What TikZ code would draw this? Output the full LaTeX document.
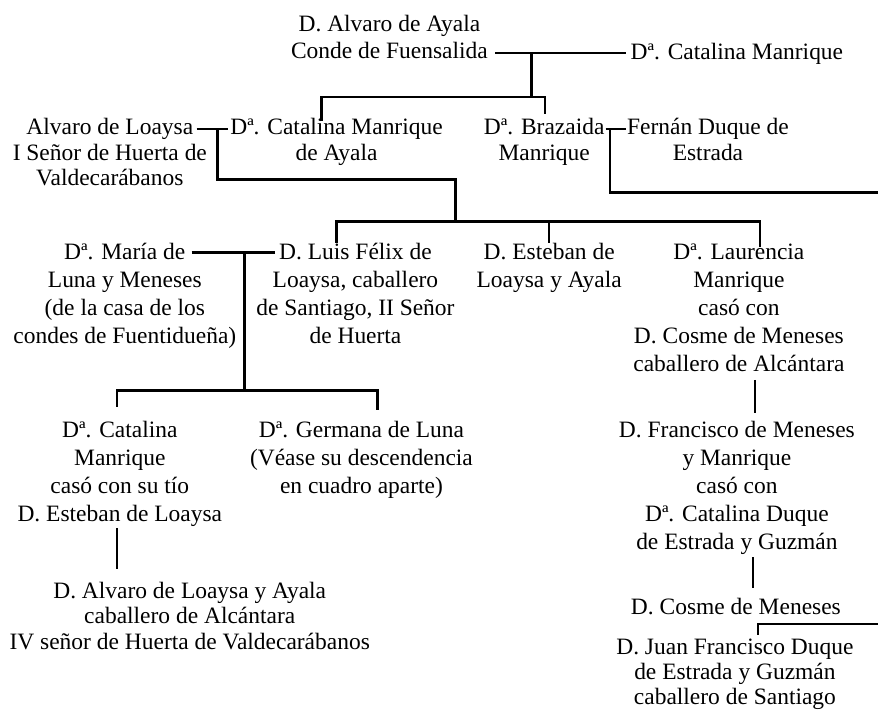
\documentclass[tikz,border=0pt]{standalone}
\usepackage{fontspec}
\setmainfont{Liberation Serif}
\begin{document}
\begin{tikzpicture}[x=1pt,y=-1pt]
\tikzset{
  person/.style={anchor=base, align=center, inner sep=0pt, font=\fontsize{23.5}{28}\selectfont},
  tight/.style={font=\fontsize{23.5}{25.5}\selectfont},
  conn/.style={line width=2.6pt, line cap=butt, line join=miter}
}
\fill[white] (0,0) rectangle (879,714);
% ---- persons (placed at the baseline of their last line) ----
\node[person,font=\fontsize{23.5}{27}\selectfont] (A) at (390,59) {D. Alvaro de Ayala\\Conde de Fuensalida};
\node[person] (B) at (738,60) {Dª. Catalina Manrique};
\node[person,tight] (D) at (110,186) {Alvaro de Loaysa\\I Señor de Huerta de\\Valdecarábanos};
\node[person,tight] (C) at (337,160.5) {Dª. Catalina Manrique\\de Ayala};
\node[person,tight] (E) at (545,160.5) {Dª. Brazaida\\Manrique};
\node[person,tight] (F) at (709,160.5) {Fernán Duque de\\Estrada};
\node[person] (G) at (125,344) {Dª. María de\\Luna y Meneses\\(de la casa de los\\condes de Fuentidueña)};
\node[person] (H) at (356,344) {D. Luis Félix de\\Loaysa, caballero\\de Santiago, II Señor\\de Huerta};
\node[person] (I) at (550,288) {D. Esteban de\\Loaysa y Ayala};
\node[person] (J) at (740,372) {Dª. Laurencia\\Manrique\\casó con\\D. Cosme de Meneses\\caballero de Alcántara};
\node[person] (K) at (120,522) {Dª. Catalina\\Manrique\\casó con su tío\\D. Esteban de Loaysa};
\node[person] (M) at (362,494) {Dª. Germana de Luna\\(Véase su descendencia\\en cuadro aparte)};
\node[person] (N) at (738,550) {D. Francisco de Meneses\\y Manrique\\casó con\\Dª. Catalina Duque\\de Estrada y Guzmán};
\node[person,tight] (L) at (190,650) {D. Alvaro de Loaysa y Ayala\\caballero de Alcántara\\IV señor de Huerta de Valdecarábanos};
\node[person] (O) at (737,615) {D. Cosme de Meneses};
\node[person,tight] (P) at (736,706) {D. Juan Francisco Duque\\de Estrada y Guzmán\\caballero de Santiago};
% ---- junction points ----
\coordinate (ab) at (532,53);
\coordinate (b1l) at (322,97);
\coordinate (b1m) at (532,97);
\coordinate (b1r) at (546,97);
\coordinate (dcL) at (197,129);
\coordinate (dc) at (218,129);
\coordinate (t2) at (456,180);
\coordinate (b2l) at (337,222);
\coordinate (b2m) at (550,222);
\coordinate (b2r) at (761,222);
\coordinate (ef) at (611,129);
\coordinate (efE) at (879,193);
\coordinate (ghL) at (192,253);
\coordinate (ghR) at (275,253);
\coordinate (gh) at (245,253);
\coordinate (b3l) at (117,391);
\coordinate (b3r) at (378,391);
\coordinate (kx) at (117,0);
\coordinate (jx) at (756,0);
\coordinate (nx) at (754,0);
\coordinate (pE) at (879,625);
\coordinate (pt) at (759,625);
% ---- connectors ----
% Alvaro de Ayala -- Catalina Manrique
\draw[conn] ([xshift=7pt]A.east |- ab) -- ([xshift=-5pt]B.west |- ab);
\draw[conn] (ab) -- (b1m);
\draw[conn] ([yshift=-3pt]C.north -| b1l) -- (b1l) -- (b1r) -- ([yshift=4pt]E.north -| b1r);
% Alvaro de Loaysa -- Catalina Manrique de Ayala
\draw[conn] (dcL) -- ([xshift=-2pt]C.west |- dcL);
\draw[conn] (dc) |- (t2) -- (t2 |- b2l);
\draw[conn] (H.north -| b2l) -- (b2l) -- (b2r) -- ([yshift=-3pt]J.north -| b2r);
\draw[conn] (b2m) -- (I.north -| b2m);
% Brazaida -- Fernan Duque de Estrada
\draw[conn] ([xshift=1pt]E.east |- ef) -- ([xshift=-1pt]F.west |- ef);
\draw[conn] (ef) |- (efE);
% Maria de Luna -- Luis Felix
\draw[conn] (ghL) -- (ghR);
\draw[conn] (gh) -- (gh |- b3l);
\draw[conn] ([yshift=14pt]K.north -| b3l) -- (b3l) -- (b3r) -- ([yshift=11pt]M.north -| b3r);
% descents
\draw[conn] ([yshift=-2pt]K.south -| kx) -- ([yshift=13pt]L.north -| kx);
\draw[conn] ([yshift=-8pt]J.south -| jx) -- ([yshift=8pt]N.north -| jx);
\draw[conn] ([yshift=-3pt]N.south -| nx) -- ([yshift=10pt]O.north -| nx);
\draw[conn] (pE) -- (pt) -- ([yshift=3pt]P.north -| pt);
\end{tikzpicture}
\end{document}
